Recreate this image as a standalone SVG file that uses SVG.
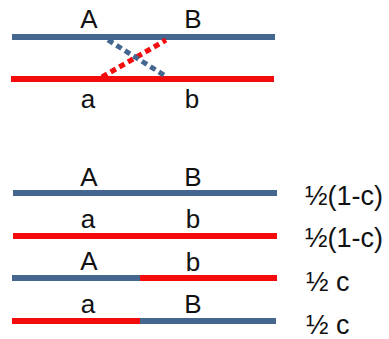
<svg xmlns="http://www.w3.org/2000/svg" width="389" height="339" viewBox="0 0 389 339">
<style>
.b{stroke:#44668f;stroke-width:6;fill:none}
.r{stroke:#f40b0b;stroke-width:6;fill:none}
.d{stroke-width:5;stroke-dasharray:6 4;fill:none}
.l{font-family:"Liberation Sans",Arial,sans-serif;font-size:26px;fill:#111;text-anchor:middle}
.f{font-family:"Liberation Sans",Arial,sans-serif;font-size:27px;fill:#111}
</style>
<rect width="389" height="339" fill="#fff"/>
<g id="parentAB">
<line class="b" x1="12" y1="37" x2="275" y2="37"/>
<text class="l" x="89" y="28">A</text>
<text class="l" x="193" y="28">B</text>
</g>
<g id="parentab">
<line class="r" x1="11" y1="79" x2="274" y2="79"/>
<text class="l" x="88" y="108">a</text>
<text class="l" x="192" y="108">b</text>
</g>
<g id="crossover">
<line class="d" stroke="#f40b0b" x1="102" y1="77" x2="166" y2="40"/>
<line class="d" stroke="#44668f" x1="108" y1="40" x2="167" y2="77"/>
</g>
<g id="gAB">
<line class="b" x1="13" y1="193" x2="277" y2="193"/>
<text class="l" x="89" y="186">A</text>
<text class="l" x="193" y="186">B</text>
<text class="f" x="305" y="205">½(1-c)</text>
</g>
<g id="gab">
<line class="r" x1="13" y1="236" x2="277" y2="236"/>
<text class="l" x="88" y="228">a</text>
<text class="l" x="193" y="228">b</text>
<text class="f" x="305" y="247">½(1-c)</text>
</g>
<g id="gAb">
<line class="b" x1="12" y1="278" x2="141" y2="278"/>
<line class="r" x1="140" y1="278" x2="277" y2="278"/>
<text class="l" x="89" y="270">A</text>
<text class="l" x="193" y="271">b</text>
<text class="f" x="306" y="291">½ c</text>
</g>
<g id="gaB">
<line class="r" x1="12" y1="321" x2="141" y2="321"/>
<line class="b" x1="140" y1="321" x2="276" y2="321"/>
<text class="l" x="88" y="313">a</text>
<text class="l" x="193" y="313">B</text>
<text class="f" x="306" y="334">½ c</text>
</g>
</svg>
